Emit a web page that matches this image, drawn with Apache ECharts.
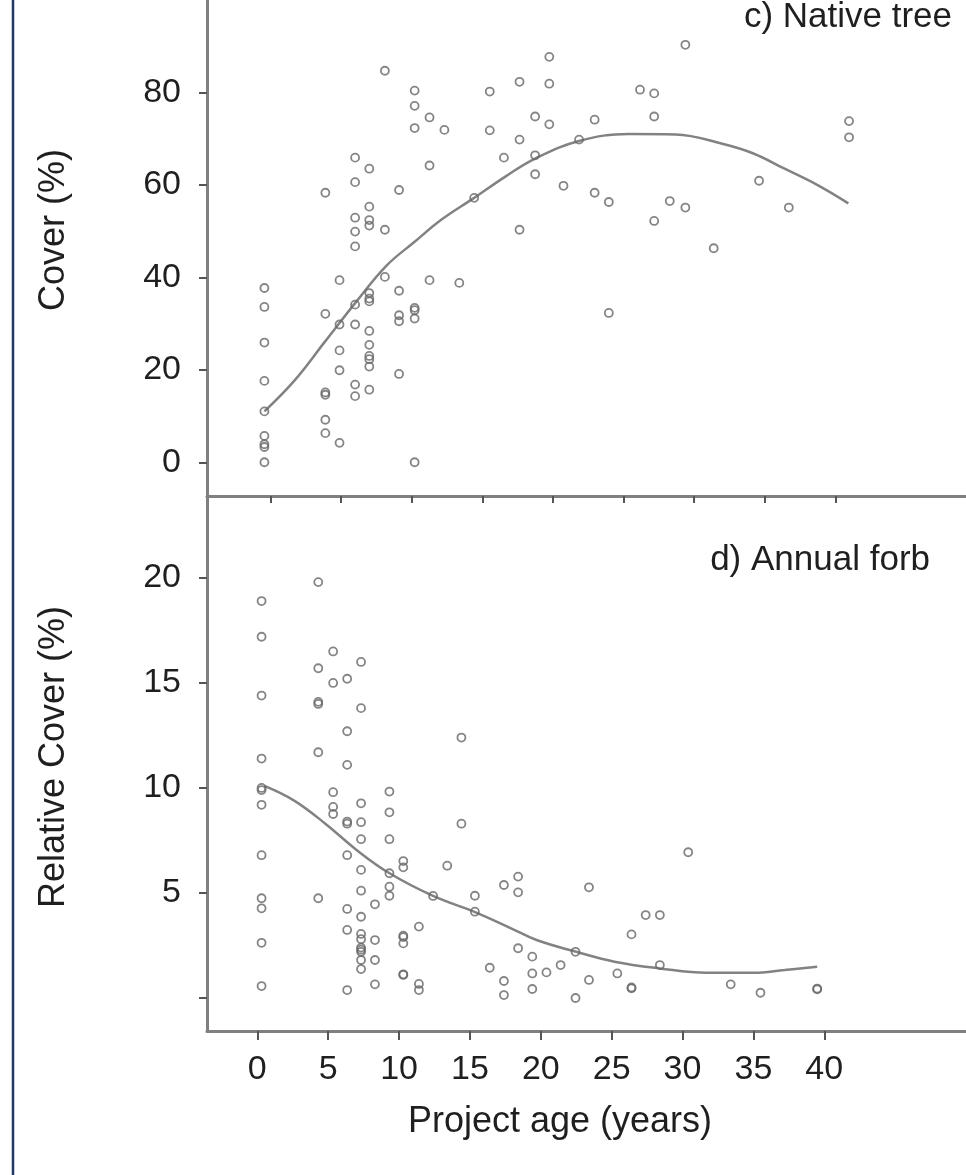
<!DOCTYPE html>
<html>
<head>
<meta charset="utf-8">
<script src="https://cdn.jsdelivr.net/npm/echarts@6/dist/echarts.min.js"></script>
<style>
html,body{margin:0;padding:0;background:#fff;}
#c{width:966px;height:1175px;}
</style>
</head>
<body>
<div id="c"></div>
<script>
// ---- tick labels ----
const xTicks = [0, 5, 10, 15, 20, 25, 30, 35, 40];
const treeYTicks = [0, 20, 40, 60, 80];
const forbYTicks = [0, 5, 10, 15, 20];
const forbYLabels = [5, 10, 15, 20];

// ---- c) Native tree: observed points ----
const treeAge = [
  0.5,0.5,0.5,0.5,0.5,0.5,0.5,0.5,0.5,
  4.8,4.8,4.8,4.8,4.8,4.8,
  5.8,5.8,5.8,5.8,5.8,
  6.9,6.9,6.9,6.9,6.9,6.9,6.9,6.9,6.9,
  7.9,7.9,7.9,7.9,7.9,7.9,7.9,7.9,7.9,7.9,7.9,7.9,7.9,
  9.0,9.0,9.0,
  10.0,10.0,10.0,10.0,10.0,
  11.1,11.1,11.1,11.1,11.1,11.1,11.1,
  12.15,12.15,12.15,
  13.2,14.25,15.3,
  16.4,16.4,17.4,
  18.5,18.5,18.5,
  19.6,19.6,19.6,
  20.6,20.6,20.6,
  21.6,22.7,23.8,23.8,24.8,24.8,27.0,
  28.0,28.0,28.0,29.1,30.2,30.2,32.2,35.4,37.5,41.75,41.75
];
const treeCover = [
  37.7,33.6,25.9,17.6,11.0,5.7,3.9,3.3,0,
  58.3,32.1,15.1,14.6,9.2,6.3,
  39.4,29.8,24.2,19.9,4.2,
  65.9,60.6,52.9,49.9,46.7,34.1,29.8,16.8,14.3,
  63.5,55.3,52.4,51.2,36.6,35.4,34.8,28.4,25.4,23.0,22.3,20.7,15.7,
  84.7,50.3,40.1,
  58.9,37.1,31.8,30.5,19.1,
  80.4,77.1,72.3,33.4,32.9,31.1,0,
  74.6,64.2,39.4,
  71.9,38.8,57.2,
  80.2,71.8,65.9,
  82.3,69.8,50.3,
  74.8,66.4,62.3,
  87.7,81.9,73.1,
  59.8,69.8,74.1,58.3,56.3,32.3,80.6,
  79.8,74.8,52.2,56.5,90.3,55.1,46.3,60.9,55.1,73.8,70.3
];
// fitted curve
const treeFitAge   = [0.5, 2.6, 4.8, 7.0, 9.1, 11.1, 13.0, 15.3, 17.5, 19.6, 22.7, 26.2, 29.5, 32.8, 35.0, 37.2, 39.5, 41.7];
const treeFitCover = [11.0, 17.6, 26.2, 34.8, 42.5, 47.7, 52.5, 57.2, 61.8, 65.7, 69.5, 71.0, 70.9, 68.9, 66.8, 63.5, 60.0, 56.0];

// ---- d) Annual forb: observed points ----
const forbAge = [
  0.3,0.3,0.3,0.3,0.3,0.3,0.3,0.3,0.3,0.3,0.3,0.3,
  4.3,4.3,4.3,4.3,4.3,4.3,
  5.35,5.35,5.35,5.35,5.35,
  6.34,6.34,6.34,6.34,6.34,6.34,6.34,6.34,6.34,
  7.32,7.32,7.32,7.32,7.32,7.32,7.32,7.32,7.32,7.32,7.32,7.32,7.32,7.32,7.32,
  8.3,8.3,8.3,8.3,
  9.32,9.32,9.32,9.32,9.32,9.32,
  10.3,10.3,10.3,10.3,10.3,10.3,10.3,
  11.4,11.4,11.4,
  12.4,13.4,14.4,14.4,15.35,15.35,16.4,
  17.4,17.4,17.4,18.4,18.4,18.4,
  19.4,19.4,19.4,20.4,21.4,22.45,22.45,
  23.4,23.4,25.4,26.4,26.4,26.4,27.4,28.4,28.4,
  30.4,33.4,35.5,39.5,39.5
];
const forbCover = [
  18.9,17.2,14.4,11.4,9.9,10.0,9.2,6.8,4.75,4.27,2.63,0.57,
  19.8,15.7,14.1,14.0,11.7,4.75,
  16.5,15.0,9.8,9.1,8.76,
  15.2,12.7,11.1,8.4,8.3,6.8,4.24,3.24,0.38,
  16.0,13.8,9.27,8.37,7.56,6.1,5.11,3.87,3.05,2.8,2.4,2.3,2.2,1.81,1.38,
  4.46,2.76,1.81,0.65,
  9.83,8.84,7.56,5.94,5.3,4.87,
  6.52,6.22,2.97,2.9,2.6,1.13,1.1,
  3.4,0.67,0.38,
  4.86,6.3,12.4,8.3,4.87,4.11,1.44,
  5.38,0.81,0.14,5.78,5.03,2.37,
  1.97,1.17,0.43,1.22,1.57,2.2,0.0,
  5.27,0.86,1.17,3.03,0.46,0.5,3.95,3.95,1.57,
  6.94,0.65,0.25,0.41,0.45
];
const forbFitAge   = [0.5, 2.6, 4.8, 7.0, 9.3, 12.4, 15.4, 17.9, 19.7, 22.5, 25.2, 28.4, 31.7, 35.0, 37.2, 39.5];
const forbFitCover = [10.1, 9.4, 8.3, 7.05, 5.95, 4.86, 4.08, 3.32, 2.76, 2.2, 1.73, 1.41, 1.2, 1.2, 1.33, 1.49];

const zip = (a, b) => a.map((v, i) => [v, b[i]]);

const FONT = 'Liberation Sans, Arial, sans-serif';
const TXT = '#1f1f1f';
const AXC = '#808080';
const TKC = '#555555';

const pointStyle = { color: 'rgba(0,0,0,0)', borderColor: '#666666', borderWidth: 1.8 };
const curveStyle = { color: '#828282', width: 2.5 };
const lineOn = { show: true, onZero: false, lineStyle: { color: AXC, width: 3 } };
const lineOff = { show: false, onZero: false };

const chart = echarts.init(document.getElementById('c'), null, { renderer: 'canvas' });
chart.setOption({
  animation: false,
  backgroundColor: '#ffffff',
  grid: [
    { left: 207, top: -3, width: 814, height: 499 },
    { left: 207, top: 496, width: 814, height: 535 }
  ],
  xAxis: [
    { gridIndex: 0, type: 'value', min: -3.55, max: 50, position: 'bottom',
      axisLine: lineOn,
      axisTick: { show: false }, axisLabel: { show: false }, splitLine: { show: false } },
    { gridIndex: 0, type: 'value', min: -4.49, max: 49.24, position: 'bottom',
      axisLine: lineOff,
      axisTick: { show: true, customValues: xTicks, length: 7, lineStyle: { color: TKC, width: 2 } },
      axisLabel: { show: false }, splitLine: { show: false } },
    { gridIndex: 1, type: 'value', min: -3.55, max: 50, position: 'bottom',
      axisLine: lineOn,
      axisTick: { show: true, customValues: xTicks, length: 9, lineStyle: { color: TKC, width: 2 } },
      axisLabel: { show: true, customValues: xTicks, margin: 22, fontSize: 34, color: TXT, fontFamily: FONT },
      splitLine: { show: false } }
  ],
  yAxis: [
    { gridIndex: 0, type: 'value', min: -7.3, max: 100, position: 'left',
      axisLine: lineOn,
      axisTick: { show: true, customValues: treeYTicks, length: 8, lineStyle: { color: TKC, width: 2 } },
      axisLabel: { show: true, customValues: treeYTicks, margin: 26, fontSize: 34, color: TXT, fontFamily: FONT, padding: [6, 0, 0, 0] },
      splitLine: { show: false } },
    { gridIndex: 1, type: 'value', min: -1.57, max: 23.9, position: 'left',
      axisLine: lineOn,
      axisTick: { show: true, customValues: forbYTicks, length: 8, lineStyle: { color: TKC, width: 2 } },
      axisLabel: { show: true, customValues: forbYLabels, margin: 26, fontSize: 34, color: TXT, fontFamily: FONT, padding: [6, 0, 0, 0] },
      splitLine: { show: false } }
  ],
  series: [
    { type: 'line', xAxisIndex: 0, yAxisIndex: 0, data: zip(treeFitAge, treeFitCover),
      smooth: 0.4, showSymbol: false, lineStyle: curveStyle, z: 2 },
    { type: 'scatter', xAxisIndex: 0, yAxisIndex: 0, data: zip(treeAge, treeCover),
      symbol: 'circle', symbolSize: 8, itemStyle: pointStyle, z: 3 },
    { type: 'line', xAxisIndex: 2, yAxisIndex: 1, data: zip(forbFitAge, forbFitCover),
      smooth: 0.4, showSymbol: false, lineStyle: curveStyle, z: 2 },
    { type: 'scatter', xAxisIndex: 2, yAxisIndex: 1, data: zip(forbAge, forbCover),
      symbol: 'circle', symbolSize: 8, itemStyle: pointStyle, z: 3 }
  ],
  graphic: [
    { type: 'line', shape: { x1: 13, y1: 0, x2: 13, y2: 1175 }, style: { stroke: '#1f3864', lineWidth: 2.5 } },
    { type: 'text', x: 952, y: 17, style: { text: 'c) Native tree', font: '35px ' + FONT, fill: TXT, textAlign: 'right', textVerticalAlign: 'middle' } },
    { type: 'text', x: 930, y: 560, style: { text: 'd) Annual forb', font: '35px ' + FONT, fill: TXT, textAlign: 'right', textVerticalAlign: 'middle' } },
    { type: 'text', x: 560, y: 1122, style: { text: 'Project age (years)', font: '36px ' + FONT, fill: TXT, textAlign: 'center', textVerticalAlign: 'middle' } },
    { type: 'text', x: 54, y: 230, rotation: Math.PI / 2, style: { text: 'Cover (%)', font: '36px ' + FONT, fill: TXT, textAlign: 'center', textVerticalAlign: 'middle' } },
    { type: 'text', x: 54, y: 757, rotation: Math.PI / 2, style: { text: 'Relative Cover (%)', font: '36px ' + FONT, fill: TXT, textAlign: 'center', textVerticalAlign: 'middle' } }
  ]
});
</script>
</body>
</html>
